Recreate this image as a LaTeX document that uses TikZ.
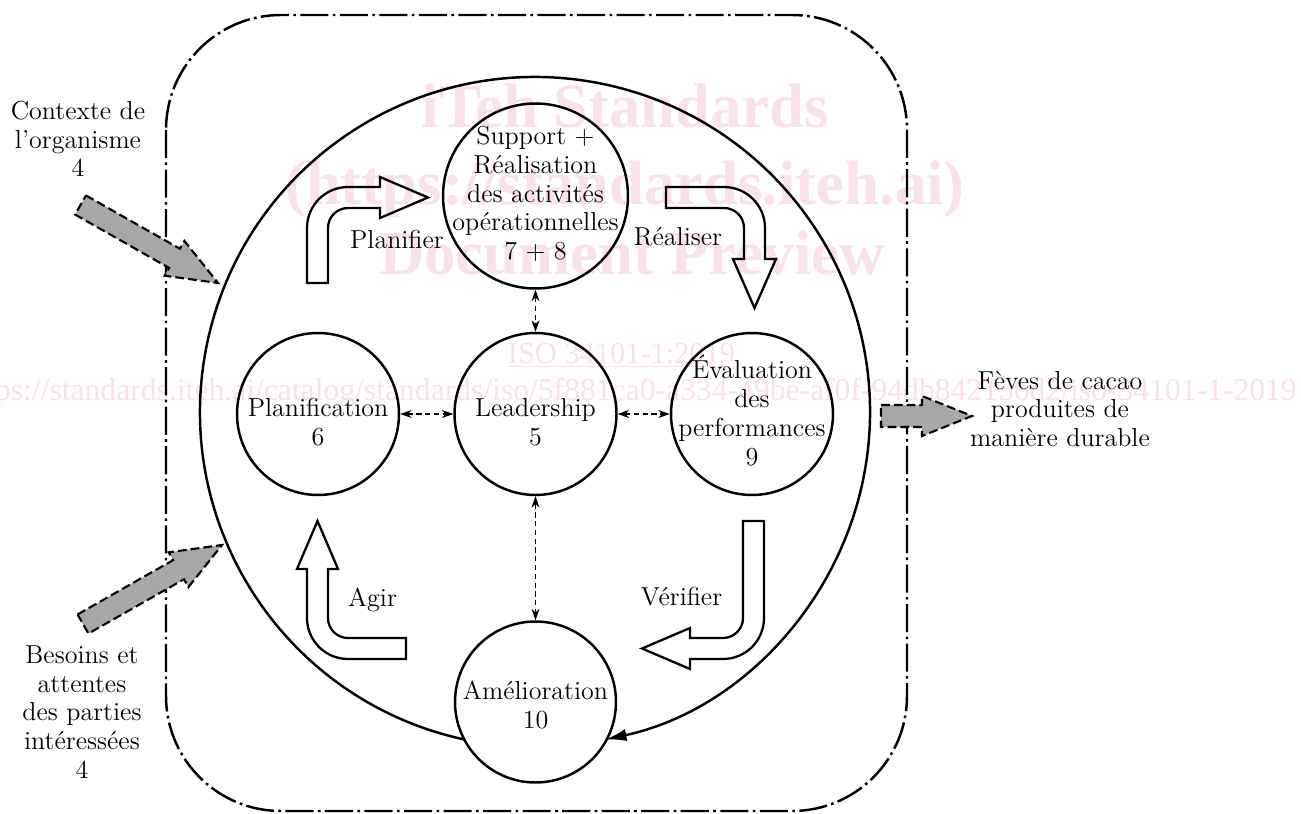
\documentclass[tikz,border=0pt]{standalone}
\usepackage{fontspec}
\newfontfamily\wmfont{Liberation Serif}
\usetikzlibrary{arrows.meta,calc}
\definecolor{arrowgray}{RGB}{166,168,166}
\definecolor{wmpink}{RGB}{250,224,232}

% grey block arrow from a tail coordinate to a tip coordinate
\newcommand\feedarrow[2]{%
  \draw[feed]
    ($(#1)!0.22cm!90:(#2)$)
    -- ($ ($(#2)!1cm!(#1)$) !0.22cm!90:(#2) $)
    -- ($ ($(#2)!1cm!(#1)$) !0.40cm!90:(#2) $)
    -- (#2)
    -- ($ ($(#2)!1cm!(#1)$) !0.40cm!-90:(#2) $)
    -- ($ ($(#2)!1cm!(#1)$) !0.22cm!-90:(#2) $)
    -- ($(#1)!0.22cm!-90:(#2)$) -- cycle;}

\begin{document}
\begin{tikzpicture}[x=0.02cm,y=-0.02cm,
  circ/.style={circle,draw,line width=1.4pt,inner sep=0pt},
  lbl/.style={font=\fontsize{14.8}{16.4}\selectfont,align=center,inner sep=0pt},
  hollow/.style={draw,line width=1.3pt,line join=miter},
  dbl/.style={line width=0.6pt,dash pattern=on 3pt off 2pt,
    {Stealth[length=6.5pt,width=4.5pt]}-{Stealth[length=6.5pt,width=4.5pt]}},
  frame/.style={line width=1.4pt,dash pattern=on 16pt off 2.5pt on 1.5pt off 2.5pt},
  feed/.style={draw,line width=1.2pt,dash pattern=on 5pt off 2.3pt,fill=arrowgray,line join=miter},
  loop/.style={line width=1.4pt,-{Latex[length=12pt,width=7pt]}},
  wm/.style={text=wmpink,inner sep=0pt},
  wmbig/.style={wm,font=\wmfont\bfseries\fontsize{35.7}{40}\selectfont,anchor=base}]

\useasboundingbox (0,0) rectangle (1301,814);

% preview stamp in the background
\begin{scope}
  \clip (0,0) rectangle (1301,814);
  \node[wmbig] (wm1) at (625.5,128) {iTeh Standards};
  \node[wmbig] (wm2) at (625,205) {(https://standards.iteh.ai)};
  \node[wmbig] (wm3) at (632,275) {Document Preview};
  \node[wm,font=\wmfont\fontsize{17.3}{20}\selectfont,anchor=base] (wm4) at (621.5,363) {\underline{ISO 34101-1:2019}};
  \node[wm,font=\wmfont\fontsize{18}{20}\selectfont,anchor=base east] (wm5) at (1297,400)
    {https://standards.iteh.ai/catalog/standards/iso/5f881ca0-a334-49be-af0f-94db842156d2/iso-34101-1-2019};
\end{scope}

% organisation boundary
\draw[frame,rounded corners=2.3cm] (166,15) rectangle (907,811);

% clause circles
\node[circ,minimum size=3.7cm]  (sup)  at (535.5,196) {};
\node[circ,minimum size=3.24cm] (lead) at (535.5,414) {};
\node[circ,minimum size=3.24cm] (plan) at (318,414) {};
\node[circ,minimum size=3.24cm] (eval) at (752,414) {};
\node[circ,minimum size=3.22cm] (amel) at (535.5,702) {};

\node[lbl] (supt)  at (535.5,194) {Support +\\Réalisation\\des activités\\opérationnelles\\7 + 8};
\node[lbl] (leadt) at (535.5,422) {Leadership\\5};
\node[lbl] (plant) at (318,422) {Planification\\6};
\node[lbl] (evalt) at (752,410.5) {Évaluation\\des\\performances\\9};
\node[lbl] (amelt) at (535.5,705) {Amélioration\\10};

% links with leadership
\draw[dbl] (sup.south) -- (lead.north);
\draw[dbl] (lead.south) -- (amel.north);
\draw[dbl] (plan.east) -- (lead.west);
\draw[dbl] (lead.east) -- (eval.west);

% PDCA loop around the circles
\coordinate (ctr) at (535,412);
\draw[loop] ($(ctr)+(102.15:335)$) arc[start angle=102.15,end angle=437.85,radius=335];

% Plan-Do-Check-Act bent arrows
\draw[hollow] (307,283) -- (307,228) arc[start angle=180,end angle=270,radius=41]
  -- (380,187) -- (380,177) -- (428,197.5) -- (380,218) -- (380,208) -- (348,208)
  arc[start angle=270,end angle=180,radius=20] -- (328,283) -- cycle;
\draw[hollow] (666,187) -- (724,187) arc[start angle=270,end angle=360,radius=41]
  -- (765,259) -- (776,259) -- (754.5,308) -- (733,259) -- (744,259) -- (744,228)
  arc[start angle=360,end angle=270,radius=20] -- (666,208) -- cycle;
\draw[hollow] (743,521) -- (764,521) -- (764,618) arc[start angle=0,end angle=90,radius=41]
  -- (690,659) -- (690,669) -- (642,648.5) -- (690,628) -- (690,638) -- (723,638)
  arc[start angle=90,end angle=0,radius=20] -- cycle;
\draw[hollow] (406,638) -- (348,638) arc[start angle=90,end angle=180,radius=20]
  -- (328,569) -- (338,569) -- (317.5,521) -- (297,569) -- (307,569) -- (307,618)
  arc[start angle=180,end angle=90,radius=41] -- (406,659) -- cycle;

\node[lbl] (planifier) at (397,239.3) {Planifier};
\node[lbl] (realiser)  at (678,237) {Réaliser};
\node[lbl] (agir)      at (372.5,600) {Agir};
\node[lbl] (verifier)  at (681.5,597) {Vérifier};

% inputs and output
\coordinate (ctxtail) at (80.5,205);
\coordinate (ctxtip)  at (218,283);
\coordinate (bestail) at (83,624);
\coordinate (bestip)  at (222,545);
\coordinate (fevtail) at (881,416);
\coordinate (fevtip)  at (972,416);
\feedarrow{ctxtail}{ctxtip}
\feedarrow{bestail}{bestip}
\feedarrow{fevtail}{fevtip}

\node[lbl] (contexte) at (78,139) {Contexte de\\l’organisme\\4};
\node[lbl] (besoins)  at (82,712) {Besoins et\\attentes\\des parties\\intéressées\\4};
\node[lbl] (feves)    at (1060,409) {Fèves de cacao\\produites de\\manière durable};
\end{tikzpicture}
\end{document}
